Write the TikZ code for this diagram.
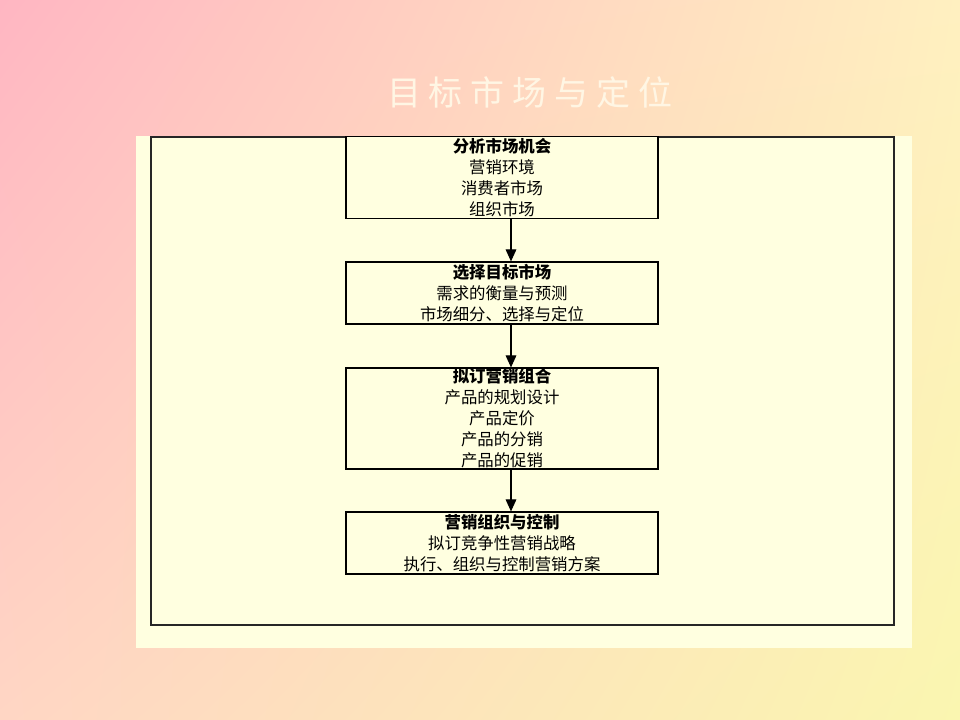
\documentclass[tikz,border=0pt]{standalone}
\usepackage{fontspec}
\setmainfont{Noto Sans CJK SC}
\usetikzlibrary{arrows.meta,shadings}
\definecolor{bgUL}{RGB}{255,182,194}
\definecolor{bgUR}{RGB}{255,240,192}
\definecolor{bgLL}{RGB}{255,214,196}
\definecolor{bgLR}{RGB}{250,246,176}
\definecolor{panel}{RGB}{255,255,224}
\definecolor{titlecol}{RGB}{255,246,228}
\tikzset{
  stepbox/.style={draw=black, line width=0.9pt, fill=panel, minimum width=234pt, inner sep=0pt, align=center,
    font={\fontsize{12.3}{15.75}\selectfont}},
  flow/.style={draw=black, line width=0.8pt, -{Triangle[length=9pt,width=8pt]}}
}
\begin{document}
\begin{tikzpicture}[x=0.75pt,y=-0.75pt]
\useasboundingbox (0,0) rectangle (960,720);
\shade[upper left=bgUL, upper right=bgUR, lower left=bgLL, lower right=bgLR] (0,0) rectangle (960,720);
\node[text=titlecol, font={\fontsize{25.5}{30}\selectfont}] (title) at (530,92)
  {目\hspace{6pt}标\hspace{6pt}市\hspace{6pt}场\hspace{6pt}与\hspace{6pt}定\hspace{6pt}位};
\fill[panel] (136,136) rectangle (912,648);
\draw[line width=1pt, draw=black!85] (151,137) rectangle (894,625);
\node[stepbox, minimum height=61.5pt] (b1) at (502,177.5)
  {\textbf{分析市场机会}\\营销环境\\消费者市场\\组织市场};
\node[stepbox, minimum height=46.5pt] (b2) at (502,293)
  {\textbf{选择目标市场}\\需求的衡量与预测\\市场细分、选择与定位};
\node[stepbox, minimum height=75.75pt] (b3) at (502,418.5)
  {\textbf{拟订营销组合}\\产品的规划设计\\产品定价\\产品的分销\\产品的促销};
\node[stepbox, minimum height=46.5pt] (b4) at (502,543)
  {\textbf{营销组织与控制}\\拟订竞争性营销战略\\执行、组织与控制营销方案};
\draw[flow] ([xshift=6.75pt]b1.south) -- ([xshift=6.75pt]b2.north);
\draw[flow] ([xshift=6.75pt]b2.south) -- ([xshift=6.75pt]b3.north);
\draw[flow] ([xshift=6.75pt]b3.south) -- ([xshift=6.75pt]b4.north);
\end{tikzpicture}
\end{document}
